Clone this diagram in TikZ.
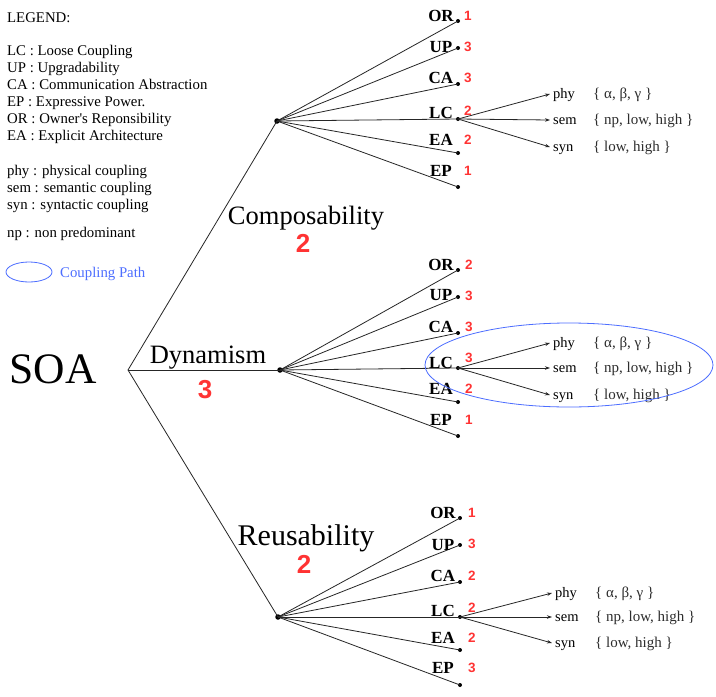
\documentclass[tikz,border=0pt]{standalone}
\usepackage{fontspec}
\setmainfont{Liberation Serif}
\newfontfamily\arialfont{Liberation Sans}
\usetikzlibrary{arrows.meta}
\definecolor{numred}{RGB}{255,51,51}
\definecolor{pathblue}{RGB}{77,110,255}
\definecolor{setgray}{RGB}{45,45,45}
% leaf: #1 prefix, #2 key, #3 leaf x, #4 leaf y, #5 label x, #6 label y, #7 number, #8 number x, #9 number y
\newcommand\leafrow[9]{%
  \node[leafdot] (#1-#2) at (#3,#4) {};
  \draw[edge] (#1.center) -- (#1-#2.center);
  \node[leaflbl] (#1-#2-t) at (#5,#6) {#2};
  \node[smallnum] (#1-#2-n) at (#8,#9) {#7};
}
% couplings: #1 prefix, #2 tip x, #3 phy y, #4 sem y, #5 syn y
\newcommand\couplings[5]{%
  \coordinate (#1-phy) at (#2,#3);
  \coordinate (#1-sem) at (#2,#4);
  \coordinate (#1-syn) at (#2,#5);
  \draw[arr] (#1-LC.center) -- (#1-phy);
  \draw[arr] (#1-LC.center) -- (#1-sem);
  \draw[arr] (#1-LC.center) -- (#1-syn);
  \node[coupl] (#1-phy-t) at ({#2+3},{#3+4}) {phy};
  \node[coupl] (#1-sem-t) at ({#2+3},{#4+4}) {sem};
  \node[coupl] (#1-syn-t) at ({#2+3},{#5+4}) {syn};
  \node[setlbl] (#1-phy-s) at ({#2+43},{#3+4}) {\{ α, β, γ \}};
  \node[setlbl] (#1-sem-s) at ({#2+43},{#4+4}) {\{ np, low, high \}};
  \node[setlbl] (#1-syn-s) at ({#2+43},{#5+4}) {\{ low, high \}};
}
\begin{document}
\begin{tikzpicture}[x=1pt,y=-1pt,
  edge/.style={line width=0.8pt, draw=black!85},
  hubdot/.style={circle, fill=black, inner sep=0pt, minimum size=5.5pt},
  leafdot/.style={circle, fill=black, inner sep=0pt, minimum size=4pt},
  leaflbl/.style={font=\fontsize{17}{19}\selectfont\bfseries, inner sep=0pt},
  smallnum/.style={font=\arialfont\fontsize{13.5}{15}\selectfont\bfseries, text=numred, inner sep=0pt},
  bignum/.style={font=\arialfont\fontsize{26}{30}\selectfont\bfseries, text=numred, inner sep=0pt},
  branchlbl/.style={font=\fontsize{26.5}{30}\selectfont, inner sep=0pt, anchor=base},
  coupl/.style={font=\fontsize{14.5}{16}\selectfont, inner sep=0pt, anchor=base west},
  setlbl/.style={font=\fontsize{15}{17}\selectfont, inner sep=0pt, anchor=base west, text=setgray},
  legend/.style={font=\fontsize{14.8}{17}\selectfont, inner sep=0pt, anchor=base west},
  arr/.style={edge, -{Stealth[length=5pt,width=3.5pt]}},
  pathell/.style={draw=pathblue, line width=0.8pt}
  ]
\path[fill=white] (0,0) rectangle (716,697);
\useasboundingbox (0,0) rectangle (716,697);

% legend
\node[legend] (leg0) at (7,22) {LEGEND:};
\node[legend] (leg1) at (7,55) {LC : Loose Coupling};
\node[legend] (leg2) at (7,72) {UP : Upgradability};
\node[legend] (leg3) at (7,89) {CA : Communication Abstraction};
\node[legend] (leg4) at (7,106) {EP : Expressive Power.};
\node[legend] (leg5) at (7,123) {OR : Owner\textquotesingle s Reponsibility};
\node[legend] (leg6) at (7,140) {EA : Explicit Architecture};
\node[legend] (leg7) at (7,175) {phy : physical coupling};
\node[legend] (leg8) at (7,192) {sem : semantic coupling};
\node[legend] (leg9) at (7,209) {syn : syntactic coupling};
\node[legend] (leg10) at (7,237) {np : non predominant};
\draw[pathell] (29,272) ellipse [x radius=23, y radius=10];
\node[legend, text=pathblue] (leg11) at (60,277) {Coupling Path};

% root
\node[font=\fontsize{43.5}{48}\selectfont, inner sep=0pt, anchor=base] (soa) at (53,383) {SOA};
\coordinate (root) at (128,370);

% hubs
\node[hubdot] (c) at (277,121) {};
\node[hubdot] (d) at (280,370) {};
\node[hubdot] (r) at (278,617) {};
\draw[edge] (root) -- (c.center);
\draw[edge] (root) -- (d.center);
\draw[edge] (root) -- (r.center);

% branch labels
\node[branchlbl] (c-lbl) at (306,224) {Composability};
\node[bignum] (c-num) at (303,243) {2};
\node[branchlbl] (d-lbl) at (208,363) {Dynamism};
\node[bignum] (d-num) at (205,390) {3};
\node[branchlbl, font=\fontsize{30}{34}\selectfont] (r-lbl) at (306,545) {Reusability};
\node[bignum] (r-num) at (304,564) {2};

% composability subtree
\leafrow{c}{OR}{458}{21}{441}{16}{1}{468}{16}
\leafrow{c}{UP}{458}{48}{441}{47}{3}{468}{47}
\leafrow{c}{CA}{458}{84}{441}{78}{3}{468}{78}
\leafrow{c}{LC}{458}{119}{441}{113}{2}{468}{111}
\leafrow{c}{EA}{458}{153}{441}{140}{2}{468}{140}
\leafrow{c}{EP}{458}{187}{441}{171}{1}{468}{171}
\couplings{c}{550}{94}{120}{147}

% dynamism subtree
\leafrow{d}{OR}{458}{270}{441}{265}{2}{469}{265}
\leafrow{d}{UP}{458}{297}{441}{295}{3}{469}{296}
\leafrow{d}{CA}{458}{333}{441}{327}{3}{469}{327}
\leafrow{d}{LC}{458}{368}{441}{363}{3}{469}{358}
\leafrow{d}{EA}{458}{402}{441}{389}{2}{469}{389}
\leafrow{d}{EP}{458}{436}{441}{420}{1}{469}{420}
\couplings{d}{550}{343}{368}{395}
\draw[pathell] (569,365) ellipse [x radius=144, y radius=42];

% reusability subtree
\leafrow{r}{OR}{460}{518}{443}{513}{1}{472}{513}
\leafrow{r}{UP}{460}{545}{443}{545}{3}{472}{544}
\leafrow{r}{CA}{460}{582}{443}{576}{2}{472}{576}
\leafrow{r}{LC}{460}{617}{443}{611}{2}{472}{608}
\leafrow{r}{EA}{460}{650}{443}{638}{2}{472}{638}
\leafrow{r}{EP}{460}{685}{443}{668}{3}{472}{668}
\couplings{r}{552}{593}{617}{643}
\end{tikzpicture}
\end{document}
